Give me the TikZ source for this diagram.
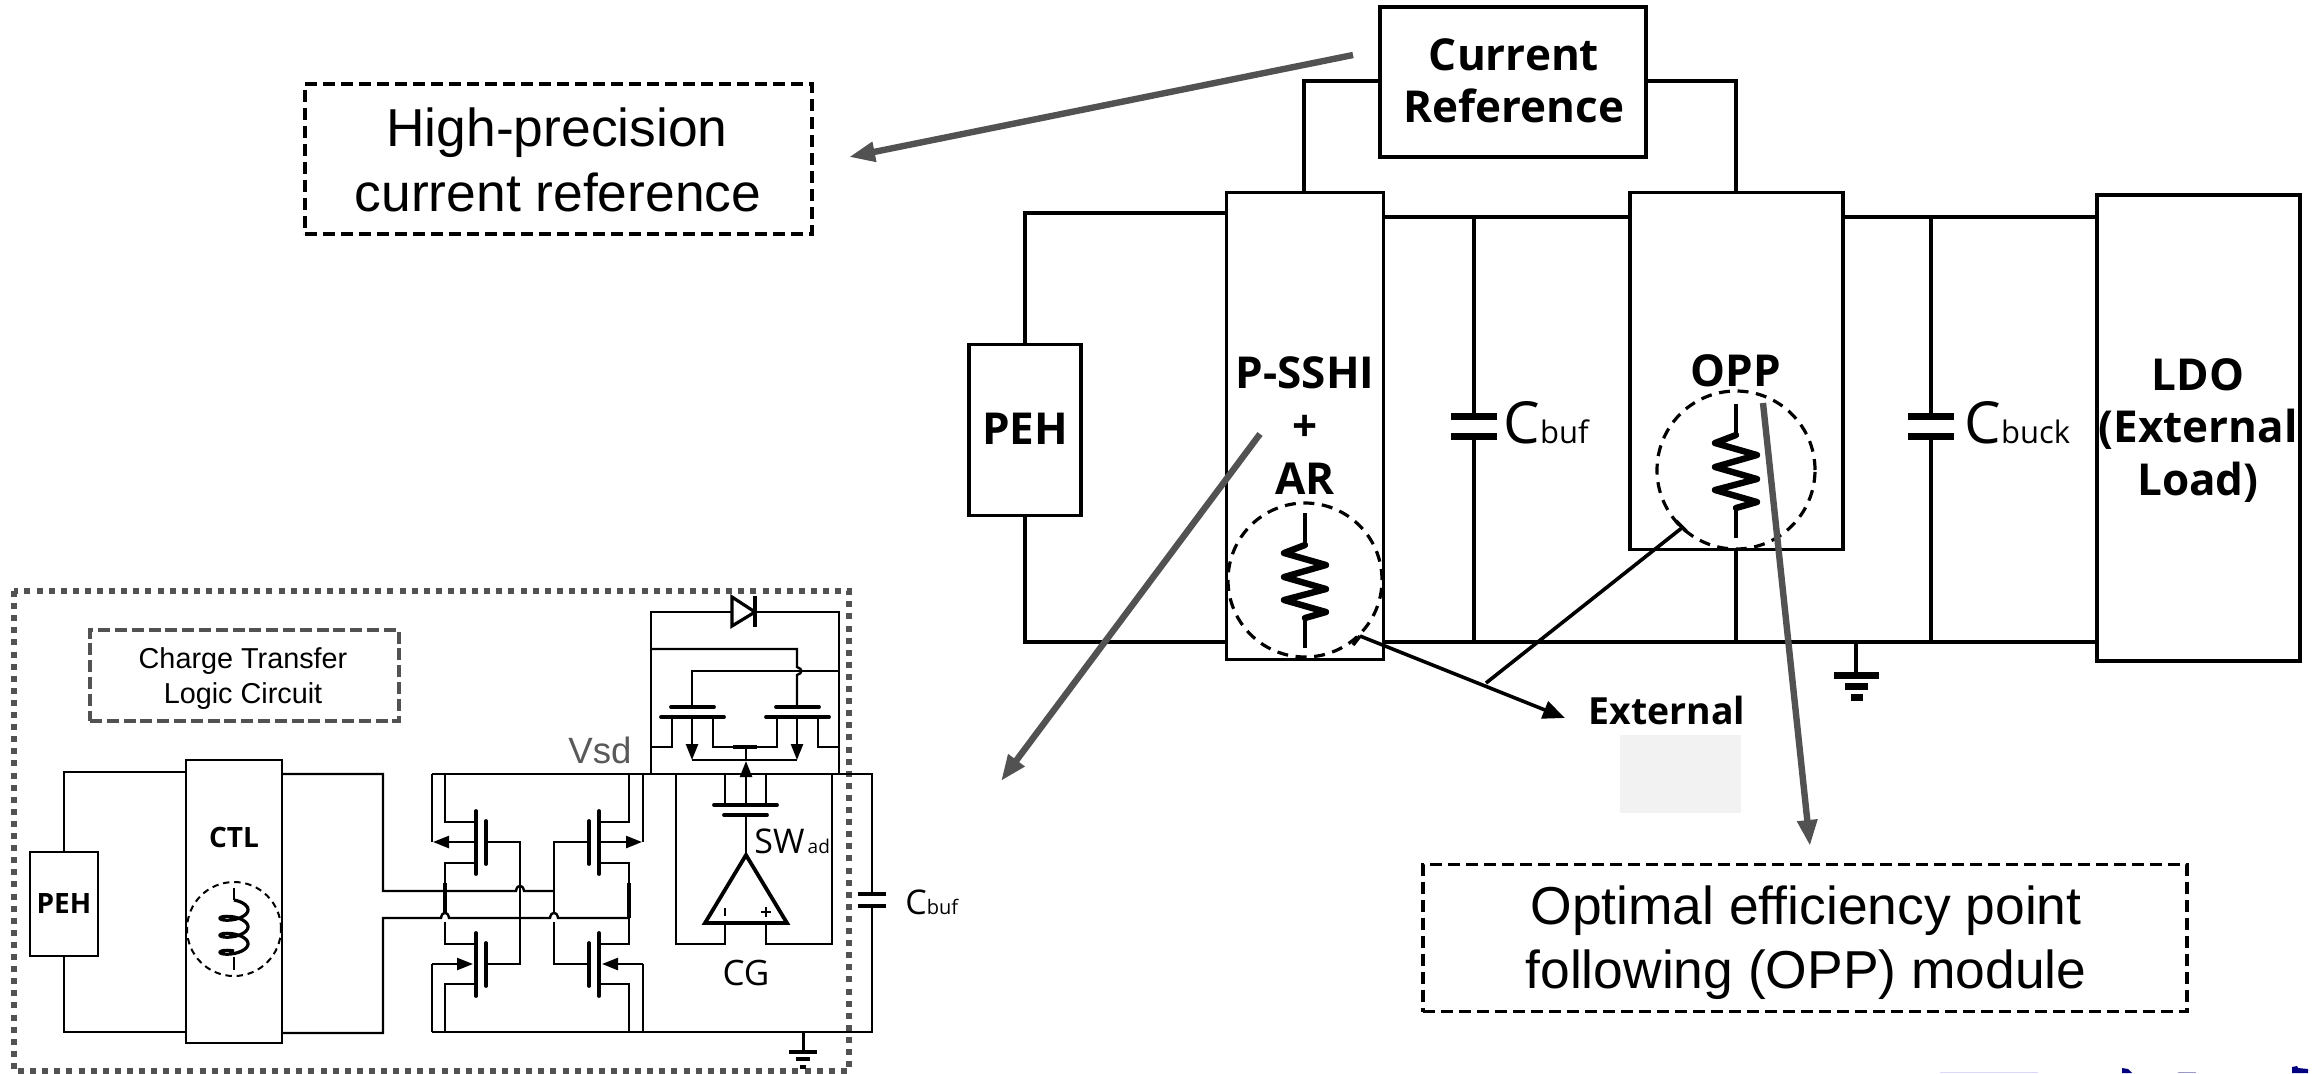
\documentclass[tikz,border=0pt]{standalone}
\usepackage{fontspec}
\setmainfont{Liberation Sans}
\newfontfamily\nsans{Open Sans}
\usetikzlibrary{arrows.meta}
\newcommand{\fsz}[1]{\fontsize{#1}{#1}\selectfont}
\newcommand{\hop}[2]{-- (#1-4,#2) .. controls (#1-3,#2-7) and (#1+3,#2-7) .. (#1+4,#2)}
\tikzset{
  x=0.5pt,y=-0.5pt,
  wire/.style={line width=1.8pt,black},
  zig/.style={line width=3.2pt,black,line join=round,line cap=round},
  swire/.style={line width=1.2pt,black},
  plate/.style={line width=1.9pt,black,line cap=round},
  capplate/.style={line width=3.5pt,black},
  bigbox/.style={draw,line width=1.8pt,fill=white,inner sep=0pt,align=center},
  smallbox/.style={draw,line width=1.2pt,fill=white,inner sep=0pt,align=center},
  lbl/.style={inner sep=0pt,align=center,font=\nsans\bfseries\fsz{22}},
  note/.style={draw,line width=1.6pt,dash pattern=on 6pt off 3pt,inner sep=0pt},
  notetext/.style={inner sep=0pt,align=center,font=\fsz{26.7}},
  greyarrow/.style={line width=3.2pt,draw=black!68,-{Triangle[length=13pt,width=9.5pt,fill=black!68]}},
  tip/.style={-{Triangle[length=8pt,width=6pt]},swire},
  cring/.style={draw,dash pattern=on 5.5pt off 3.8pt,line width=1.6pt,circle,inner sep=0pt},
}
\begin{document}
\begin{tikzpicture}
\useasboundingbox[fill=white] (0,0) rectangle (2319,1073);
% ------- right: wires
\coordinate (tl) at (1025,213); \coordinate (bl) at (1025,642);
\coordinate (br) at (2097,642);
\draw[wire] (1226,213) -- (tl) -- (bl) -- (br);
\draw[wire] (1383,217) -- (2097,217);
\draw[wire] (1304,192) -- (1304,81) -- (1380,81);
\draw[wire] (1646,81) -- (1736,81) -- (1736,192);
\draw[wire] (1736,549) -- (1736,642);
% Cbuf and Cbuck
\foreach \cx in {1474,1931}{
  \draw[wire] (\cx,217) -- (\cx,416);
  \draw[wire] (\cx,436) -- (\cx,642);
  \draw[capplate] (\cx-23,416) -- (\cx+23,416);
  \draw[capplate] (\cx-23,436) -- (\cx+23,436);
}
% ground right
\draw[wire] (1856,642) -- (1856,675);
\draw[capplate] (1834,675) -- (1879,675);
\draw[capplate] (1845,686) -- (1868,686);
\draw[capplate] (1851,697) -- (1863,697);
% ------- right: boxes
\node[bigbox,minimum width=266*0.5pt,minimum height=150*0.5pt] (cref) at (1513,82) {};
\node[lbl] (crefa) at (1514,55) {Current};
\node[lbl] (crefb) at (1514,106) {Reference};
\node[bigbox,minimum width=112*0.5pt,minimum height=171*0.5pt] (peh) at (1025,430) {};
\node[lbl] (pehT) at (1025,429) {PEH};
\node[bigbox,minimum width=157*0.5pt,minimum height=467*0.5pt] (ssh) at (1305,426) {};
\node[bigbox,minimum width=213*0.5pt,minimum height=357*0.5pt] (opp) at (1736.5,371) {};
\node[bigbox,minimum width=203*0.5pt,minimum height=466*0.5pt] (ldo) at (2198.5,428) {};
\node[lbl] (t1) at (1305,373) {P-SSHI};
\node[lbl] (t2) at (1305,428) {+};
\node[lbl] (t3) at (1305,479) {AR};
\node[lbl] (t4) at (1736,371) {OPP};
\node[lbl] (t5) at (2198,375) {LDO};
\node[lbl] (t6) at (2198,429) {(External};
\node[lbl] (t7) at (2198,482) {Load)};
\node[inner sep=0pt,anchor=base west,font=\nsans\fsz{29}] (cb) at (1503,443) {C\fsz{15.5}buf};
\node[inner sep=0pt,anchor=base west,font=\nsans\fsz{29}] (cbk) at (1964,443) {C\fsz{15.5}buck};
% resistors
\node[cring,minimum size=154*0.5pt] (ringa) at (1305,580) {};
\node[cring,minimum size=158*0.5pt] (ringb) at (1736,470) {};
\draw[wire] (1305,513) -- (1305,545) (1305,618) -- (1305,648);
\draw[zig] (1305,545) -- (1284,553) -- (1326,565) -- (1284,577) -- (1326,589) -- (1284,600) -- (1326,612) -- (1305,618);
\draw[wire] (1736,404) -- (1736,435) (1736,508) -- (1736,538);
\draw[zig] (1736,435) -- (1715,443) -- (1757,455) -- (1715,467) -- (1757,479) -- (1715,490) -- (1757,502) -- (1736,508);
% External
\fill[black!5] (1620,735) rectangle (1741,813);
\node[inner sep=0pt,font=\nsans\bfseries\fsz{18.7}] (ext) at (1667,710) {External};
\coordinate (ea) at (1360,636); \coordinate (eb) at (1565,718); \coordinate (ec) at (1486,683); \coordinate (ed) at (1683,527);
\draw[wire,-{Triangle[length=11pt,width=9pt]}] (ea) -- (eb);
\draw[wire] (ec) -- (ed);
\draw[wire] (1353,645) -- (ea);
\draw[wire] (1676,521) -- (1686,531);
% ------- notes
\node[note,minimum width=507*0.5pt,minimum height=150*0.5pt] (n1) at (558.5,159) {};
\node[notetext] (n1a) at (557,133) {High-precision};
\node[notetext] (n1b) at (558,192) {current reference};
\node[note,minimum width=764*0.5pt,minimum height=147*0.5pt] (n2) at (1805,938) {};
\node[notetext] (n2a) at (1806,911) {Optimal efficiency point};
\node[notetext] (n2b) at (1806,975) {following (OPP) module};
% grey arrows
\coordinate (g1) at (1353,55); \coordinate (g1e) at (849,157);
\coordinate (g2) at (1260,434); \coordinate (g2e) at (1001,781);
\coordinate (g3) at (1763,403); \coordinate (g3e) at (1810,846);
\draw[greyarrow] (g1) -- (g1e);
\draw[greyarrow] (g2) -- (g2e);
\draw[greyarrow] (g3) -- (g3e);
% ------- left: frame
\draw[black!68,line width=3pt,dash pattern=on 3pt off 3.05pt] (14,591) rectangle (849,1071);
\node[draw=black!68,line width=2pt,dash pattern=on 6pt off 2.4pt,minimum width=309*0.5pt,minimum height=91*0.5pt,inner sep=0pt] (ctb) at (244.5,675.5) {};
\node[inner sep=0pt,font=\fsz{14.4}] (ctba) at (243,661) {Charge Transfer};
\node[inner sep=0pt,font=\fsz{14.4}] (ctbb) at (243,696) {Logic Circuit};
% left circuit wires
\draw[swire] (64,852) -- (64,772) -- (186,772);
\draw[swire] (64,956) -- (64,1032) -- (186,1032);
\draw[swire] (282,774) -- (383,774) -- (383,891) -- (516,891) .. controls (517,884) and (523,884) .. (524,891) -- (554,891);
\draw[swire] (282,1033) -- (383,1033) -- (383,918) \hop{445}{918} \hop{554}{918} -- (629,918);
\node[smallbox,minimum width=68*0.5pt,minimum height=104*0.5pt] (peh2) at (64,904) {};
\node[inner sep=0pt,font=\nsans\bfseries\fsz{14}] (peh2t) at (64,903) {PEH};
\node[smallbox,minimum width=96*0.5pt,minimum height=283*0.5pt] (ctl) at (234,901.5) {};
\node[inner sep=0pt,font=\nsans\bfseries\fsz{14}] (ctlt) at (234,837) {CTL};
\node[draw,dash pattern=on 3.2pt off 2.4pt,line width=1pt,circle,minimum size=94*0.5pt,inner sep=0pt] (ringc) at (234,929) {};
\draw[swire] (234,888) -- (234,900);
\draw[line width=1.6pt] plot[domain=0:1080,samples=120,smooth] ({234+14*sin(\x)},{905.5+\x/360*17-5.5*cos(\x)});
\draw[swire] (234,957) -- (234,970);
% rails
\draw[swire] (432,774) -- (872,774) -- (872,894);
\draw[swire] (872,906) -- (872,1032) -- (432,1032);
\draw[capplate,line width=2.4pt] (858,894) -- (886,894);
\draw[capplate,line width=2.4pt] (858,906) -- (886,906);
% H-bridge left
\draw[swire] (445,774) -- (445,822) -- (476,822);
\draw[swire] (476,863) -- (445,863) -- (445,914) (445,922) -- (445,944) -- (476,944);
\draw[swire] (476,984) -- (445,984) -- (445,1032);
\draw[line width=1.9pt] (445,883) -- (445,914);
\draw[swire] (432,774) -- (432,842);
\draw[swire] (432,1032) -- (432,964);
\draw[tip] (476,842) -- (433,842);
\draw[tip] (432,964) -- (473,964);
\draw[plate] (476,811) -- (476,874); \draw[plate] (486,821) -- (486,864);
\draw[plate] (476,933) -- (476,996); \draw[plate] (486,943) -- (486,986);
\draw[swire] (486,842) -- (520,842) -- (520,964) -- (486,964);
% H-bridge right
\draw[swire] (629,774) -- (629,822) -- (599,822);
\draw[swire] (599,863) -- (629,863) -- (629,944) -- (599,944);
\draw[swire] (599,984) -- (629,984) -- (629,1032);
\draw[line width=1.9pt] (629,883) -- (629,918);
\draw[swire] (643,774) -- (643,842);
\draw[swire] (643,1032) -- (643,964);
\draw[tip] (599,842) -- (642,842);
\draw[tip] (643,964) -- (602,964);
\draw[plate] (599,811) -- (599,874); \draw[plate] (589,821) -- (589,864);
\draw[plate] (599,933) -- (599,996); \draw[plate] (589,943) -- (589,986);
\draw[swire] (589,842) -- (554,842) -- (554,914) (554,922) -- (554,964) -- (589,964);
\node[inner sep=0pt,anchor=base west,text=black!65,font=\fsz{18.3}] (vsd) at (568,763) {Vsd};
% top diode + switches
\draw[swire] (651,774) -- (651,612) -- (732,612);
\draw[swire] (755,612) -- (839,612) -- (839,774);
\draw[line width=1.6pt,line join=miter] (732,597) -- (755,612) -- (732,626) -- cycle;
\draw[line width=1.9pt] (755,596) -- (755,627);
\draw[swire] (651,649) -- (797,649) -- (797,667) .. controls (803,669) and (803,673) .. (797,675) -- (797,707);
\draw[swire] (692,707) -- (692,671) -- (839,671);
\draw[plate] (671,707) -- (714,707); \draw[plate] (661,717) -- (724,717);
\draw[plate] (776,707) -- (819,707); \draw[plate] (766,717) -- (829,717);
\draw[swire] (672,717) -- (672,747) -- (651,747);
\draw[swire] (713,717) -- (713,747) -- (777,747) -- (777,717);
\draw[swire] (818,717) -- (818,747) -- (839,747);
\draw[tip] (692,717) -- (692,760);
\draw[tip] (797,717) -- (797,760);
\draw[swire] (692,760) -- (797,760);
\draw[swire] (746,747) -- (746,760);
\draw[line width=1.6pt] (733,747) -- (757,747);
% SW_ad and comparator
\draw[tip] (746,805) -- (746,761);
\draw[plate] (714,805) -- (777,805); \draw[plate] (724,815) -- (767,815);
\draw[swire] (725,805) -- (725,774);
\draw[swire] (766,805) -- (766,774);
\draw[swire] (746,815) -- (746,855);
\draw[line width=1.9pt,line join=miter] (746,855) -- (787,923) -- (705,923) -- cycle;
\draw[swire] (725,923) -- (725,944) -- (676,944) -- (676,774);
\draw[swire] (766,923) -- (766,944) -- (832,944) -- (832,774);
\draw[swire] (725,908) -- (725,916);
\draw[swire] (761,912) -- (771,912) (766,907) -- (766,917);
\node[inner sep=0pt,anchor=base west,font=\nsans\fsz{17}] (sw) at (754,853) {SW\fsz{9.5}\,ad};
\node[inner sep=0pt,font=\nsans\fsz{17.5}] (cg) at (746,973) {CG};
\node[inner sep=0pt,anchor=base west,font=\nsans\fsz{17}] (cb2) at (905,914) {C\fsz{10}buf};
% ground left
\draw[swire,line width=1.5pt] (803,1032) -- (803,1052);
\draw[line width=2pt] (789,1052) -- (817,1052);
\draw[line width=2pt] (796,1059) -- (810,1059);
\draw[line width=2pt] (800,1067) -- (806,1067);
% fragments along the bottom edge
\fill[blue!15] (1940,1071.5) rectangle (2038,1073);
\fill[blue!50!black] (2122,1068) -- (2128,1069) -- (2132,1073) -- (2122,1073) -- cycle;
\fill[blue!50!black!40] (2178,1071.5) rectangle (2196,1073);
\fill[blue!50!black] (2292,1067) -- (2297,1066) -- (2298,1068) -- (2308,1069) -- (2308,1073) -- (2292,1073) -- cycle;
\end{tikzpicture}
\end{document}
